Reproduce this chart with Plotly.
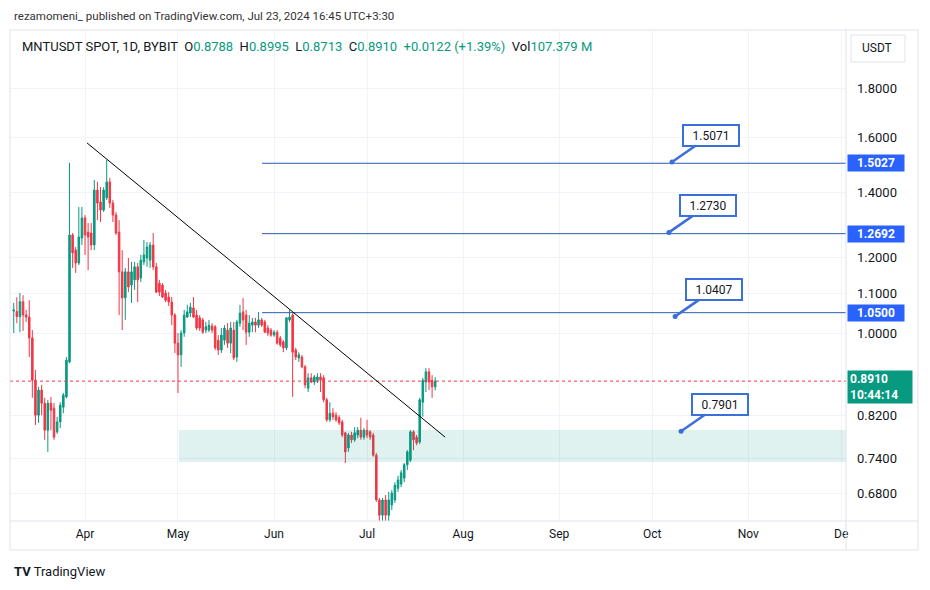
import math
import pandas as pd
import plotly.graph_objects as go

# ---------------- data ----------------
dates = pd.date_range("2024-03-09", "2024-07-23", freq="D")

open_ = [1.054, 1.053, 1.040, 1.078, 1.044, 1.039, 0.988, 0.893, 0.821, 0.872,
         0.845, 0.792, 0.845, 0.835, 0.789, 0.808, 0.837, 0.858, 0.933, 1.265,
         1.220, 1.183, 1.256, 1.318, 1.274, 1.271, 1.235, 1.409, 1.369, 1.343,
         1.383, 1.437, 1.366, 1.327, 1.274, 1.158, 1.088, 1.158, 1.122, 1.136,
         1.172, 1.141, 1.186, 1.197, 1.191, 1.235, 1.172, 1.127, 1.122, 1.101,
         1.090, 1.077, 1.044, 0.976, 0.949, 1.000, 1.039, 1.049, 1.062, 1.044,
         1.037, 1.032, 1.007, 1.007, 1.017, 1.015, 0.983, 0.960, 0.983, 1.007,
         0.976, 1.007, 0.944, 1.024, 1.052, 1.044, 1.002, 1.019, 1.027, 1.019,
         1.032, 1.027, 1.012, 1.007, 0.995, 1.002, 0.988, 0.979, 0.965, 1.032,
         1.044, 0.960, 0.942, 0.944, 0.922, 0.876, 0.898, 0.889, 0.893, 0.900,
         0.898, 0.852, 0.812, 0.825, 0.821, 0.816, 0.808, 0.787, 0.759, 0.783,
         0.774, 0.783, 0.792, 0.779, 0.792, 0.789, 0.783, 0.746, 0.670, 0.646,
         0.670, 0.646, 0.662, 0.670, 0.689, 0.696, 0.706, 0.729, 0.737, 0.789,
         0.779, 0.770, 0.847, 0.889, 0.911, 0.893, 0.8788]

high = [1.075, 1.090, 1.101, 1.095, 1.057, 1.082, 1.007, 0.915, 0.879, 0.883,
        0.856, 0.852, 0.858, 0.845, 0.818, 0.847, 0.866, 0.944, 1.504, 1.271,
        1.229, 1.353, 1.353, 1.327, 1.302, 1.302, 1.444, 1.437, 1.419, 1.419,
        1.515, 1.451, 1.376, 1.337, 1.311, 1.220, 1.169, 1.197, 1.186, 1.186,
        1.183, 1.206, 1.250, 1.244, 1.244, 1.271, 1.183, 1.136, 1.127, 1.109,
        1.103, 1.090, 1.049, 1.000, 1.007, 1.057, 1.070, 1.075, 1.090, 1.057,
        1.044, 1.037, 1.027, 1.032, 1.024, 1.019, 0.995, 1.012, 1.019, 1.024,
        1.027, 1.027, 1.032, 1.070, 1.088, 1.057, 1.044, 1.037, 1.037, 1.052,
        1.037, 1.032, 1.019, 1.012, 1.007, 1.007, 0.993, 0.983, 1.039, 1.057,
        1.049, 0.965, 0.955, 0.949, 0.926, 0.908, 0.908, 0.904, 0.908, 0.908,
        0.904, 0.856, 0.847, 0.835, 0.827, 0.821, 0.812, 0.789, 0.787, 0.789,
        0.798, 0.798, 0.816, 0.796, 0.812, 0.792, 0.787, 0.750, 0.673, 0.673,
        0.678, 0.683, 0.686, 0.699, 0.710, 0.720, 0.732, 0.755, 0.792, 0.792,
        0.783, 0.856, 0.898, 0.919, 0.919, 0.904, 0.8995]

low = [1.000, 1.024, 1.002, 1.005, 1.027, 0.944, 0.856, 0.802, 0.806, 0.821,
       0.774, 0.752, 0.792, 0.774, 0.785, 0.796, 0.825, 0.855, 0.930, 1.169,
       1.155, 1.177, 1.235, 1.206, 1.163, 1.220, 1.220, 1.311, 1.305, 1.337,
       1.376, 1.350, 1.305, 1.265, 1.044, 1.007, 1.032, 1.103, 1.075, 1.109,
       1.077, 1.130, 1.177, 1.172, 1.169, 1.163, 1.101, 1.093, 1.088, 1.077,
       1.067, 1.019, 0.953, 0.866, 0.922, 0.991, 1.037, 1.039, 1.037, 1.007,
       1.005, 0.998, 1.000, 1.002, 1.000, 0.960, 0.949, 0.953, 0.972, 0.965,
       0.953, 0.937, 0.933, 1.015, 1.007, 0.972, 0.991, 1.002, 1.002, 1.012,
       1.015, 1.000, 0.993, 0.991, 0.991, 0.972, 0.967, 0.955, 0.960, 1.027,
       0.858, 0.937, 0.933, 0.919, 0.876, 0.868, 0.887, 0.883, 0.887, 0.868,
       0.847, 0.808, 0.808, 0.812, 0.808, 0.802, 0.779, 0.732, 0.752, 0.768,
       0.770, 0.777, 0.774, 0.774, 0.777, 0.774, 0.743, 0.667, 0.625, 0.627,
       0.626, 0.630, 0.654, 0.665, 0.683, 0.691, 0.699, 0.720, 0.734, 0.755,
       0.764, 0.766, 0.818, 0.868, 0.872, 0.856, 0.8713]

close = [1.057, 1.040, 1.078, 1.044, 1.039, 0.988, 0.893, 0.821, 0.872, 0.845,
         0.792, 0.845, 0.831, 0.779, 0.808, 0.841, 0.862, 0.937, 1.265, 1.212,
         1.183, 1.259, 1.318, 1.265, 1.259, 1.235, 1.409, 1.366, 1.343, 1.409,
         1.437, 1.366, 1.327, 1.271, 1.158, 1.088, 1.158, 1.117, 1.158, 1.172,
         1.136, 1.191, 1.206, 1.229, 1.235, 1.172, 1.103, 1.103, 1.090, 1.082,
         1.077, 1.044, 0.976, 0.949, 1.000, 1.044, 1.052, 1.064, 1.039, 1.012,
         1.012, 1.002, 1.015, 1.019, 1.007, 0.965, 0.960, 0.995, 1.012, 0.976,
         1.012, 0.942, 1.027, 1.049, 1.032, 1.002, 1.024, 1.027, 1.019, 1.032,
         1.019, 1.002, 1.000, 0.995, 1.002, 0.976, 0.972, 0.965, 1.037, 1.039,
         0.955, 0.944, 0.949, 0.922, 0.883, 0.898, 0.889, 0.900, 0.900, 0.893,
         0.852, 0.812, 0.825, 0.818, 0.812, 0.806, 0.783, 0.752, 0.783, 0.774,
         0.787, 0.792, 0.779, 0.792, 0.783, 0.779, 0.746, 0.670, 0.646, 0.670,
         0.646, 0.670, 0.681, 0.694, 0.703, 0.715, 0.729, 0.752, 0.789, 0.774,
         0.768, 0.852, 0.893, 0.911, 0.889, 0.879, 0.891]

month_ticks = ["2024-04-01", "2024-05-01", "2024-06-01", "2024-07-01", "2024-08-01",
               "2024-09-01", "2024-10-01", "2024-11-01", "2024-12-01"]
month_labels = ["Apr", "May", "Jun", "Jul", "Aug", "Sep", "Oct", "Nov", "De"]
price_ticks = [0.68, 0.74, 0.82, 1.0, 1.1, 1.2, 1.4, 1.6, 1.8]

level_values = [1.5027, 1.2692, 1.0500]
level_start = "2024-05-28 03:00"
callout_values = [1.5071, 1.2730, 1.0407, 0.7901]
callout_dates = ["2024-10-07 10:00", "2024-10-06 10:00", "2024-10-08 10:00", "2024-10-10 08:00"]
zone_top, zone_bottom = 0.7925, 0.7338
zone_start = "2024-05-01 08:00"
trend_dates = ["2024-04-01 15:00", "2024-07-26 05:00"]
trend_prices = [1.578, 0.779]
last_price = 0.8910

X0, X1 = "2024-03-07 19:00", "2024-12-02 13:30"
FAR = "2024-12-20"

UP, DOWN = "#089981", "#f23645"
BLUE = "#2962ff"
LINE_BLUE = "#2a5caa"
TXT = "#131722"
GRID = "#f0f3fa"
BORDER = "#e0e3eb"
FONT = "Roboto, Arial, sans-serif"

# page body has an 8px margin: figure is drawn 8px in from the window corner
OFF = 8
W, H = 930 - OFF, 590 - OFF
# plot area in window pixels: x 10..846, y 31..521
PX0, PX1, PY0, PY1 = 10, 846, 31, 521
L, T = PX0 - OFF, PY0 - OFF
R, B = W - (PX1 - OFF), H - (PY1 - OFF)
PW, PH = PX1 - PX0, PY1 - PY0


def pxx(px):
    return (px - PX0) / PW


def pxy(py):
    return (PY1 - py) / PH


fig = go.Figure()

# support zone
fig.add_trace(go.Scatter(
    x=[zone_start, FAR, FAR, zone_start, zone_start],
    y=[zone_bottom, zone_bottom, zone_top, zone_top, zone_bottom],
    fill="toself", fillcolor="rgba(8,153,129,0.13)", line=dict(width=0),
    mode="lines", hoverinfo="skip", showlegend=False))

# horizontal levels
for v in level_values:
    fig.add_trace(go.Scatter(x=[level_start, FAR], y=[v, v], mode="lines",
                             line=dict(color=LINE_BLUE, width=1),
                             hoverinfo="skip", showlegend=False))

# last price dotted line
fig.add_trace(go.Scatter(x=[X0, FAR], y=[last_price, last_price], mode="lines",
                         line=dict(color=DOWN, width=1, dash="dot"),
                         hoverinfo="skip", showlegend=False))

# candles
fig.add_trace(go.Candlestick(
    x=dates, open=open_, high=high, low=low, close=close,
    increasing=dict(line=dict(color=UP, width=1), fillcolor=UP),
    decreasing=dict(line=dict(color=DOWN, width=1), fillcolor=DOWN),
    whiskerwidth=0, showlegend=False))

# trendline
fig.add_trace(go.Scatter(x=trend_dates, y=trend_prices, mode="lines",
                         line=dict(color="#000000", width=1),
                         hoverinfo="skip", showlegend=False))

# callout anchor dots
fig.add_trace(go.Scatter(x=callout_dates, y=callout_values, mode="markers",
                         marker=dict(color="#3b6fd9", size=5),
                         hoverinfo="skip", showlegend=False))

annotations = []
for d, v in zip(callout_dates, callout_values):
    annotations.append(dict(
        x=d, y=math.log10(v), xref="x", yref="y", text=f"{v:.4f}",
        showarrow=True, arrowhead=0, arrowwidth=2.5, arrowcolor="#3b6fd9",
        ax=39, ay=-27, standoff=0, startstandoff=0,
        bgcolor="#ffffff", bordercolor="#3b6fd9", borderwidth=2, borderpad=2,
        width=50, height=15, font=dict(family=FONT, size=12, color=TXT)))

# price axis labels for levels
for v in level_values:
    annotations.append(dict(
        x=pxx(876), y=math.log10(v), xref="paper", yref="y", text=f"<b>{v:.4f}</b>",
        showarrow=False, bgcolor=BLUE, borderpad=1, width=54, height=14,
        font=dict(family=FONT, size=12, color="#ffffff"), xanchor="center", yanchor="middle"))

# last price label
annotations.append(dict(
    x=pxx(880), y=math.log10(last_price), xref="paper", yref="y",
    text="<b>0.8910</b><br><b>10:44:14</b>", showarrow=False, bgcolor=UP,
    borderpad=2, width=60, height=28, yshift=-6, align="left",
    font=dict(family=FONT, size=12, color="#ffffff"), xanchor="center", yanchor="middle"))

# header / legend / logo texts
annotations.append(dict(
    x=pxx(12), y=pxy(16), xref="paper", yref="paper", showarrow=False,
    xanchor="left", yanchor="middle",
    text="rezamomeni_ published on TradingView.com, Jul 23, 2024 16:45 UTC+3:30",
    font=dict(family=FONT, size=11.5, color="#333333")))

g = UP
legend_txt = (f"MNTUSDT SPOT, 1D, BYBIT  O<span style='color:{g}'>0.8788</span>  "
              f"H<span style='color:{g}'>0.8995</span>  L<span style='color:{g}'>0.8713</span>  "
              f"C<span style='color:{g}'>0.8910</span>  <span style='color:{g}'>+0.0122 (+1.39%)</span>  "
              f"Vol<span style='color:{g}'>107.379 M</span>")
annotations.append(dict(
    x=pxx(20), y=pxy(46), xref="paper", yref="paper", showarrow=False,
    xanchor="left", yanchor="middle", text=legend_txt,
    font=dict(family=FONT, size=13, color=TXT)))

annotations.append(dict(
    x=pxx(877), y=pxy(48), xref="paper", yref="paper", showarrow=False,
    xanchor="center", yanchor="middle", text="USDT",
    font=dict(family=FONT, size=12, color=TXT)))

annotations.append(dict(
    x=pxx(12), y=pxy(571), xref="paper", yref="paper", showarrow=False,
    xanchor="left", yanchor="middle",
    text="<b>TV</b> TradingView",
    font=dict(family=FONT, size=13, color="#131722")))

shapes = [
    dict(type="rect", xref="paper", yref="paper", x0=pxx(10), x1=pxx(918),
         y0=pxy(550), y1=pxy(30), line=dict(color=BORDER, width=1)),
    dict(type="line", xref="paper", yref="paper", x0=pxx(846), x1=pxx(846),
         y0=pxy(550), y1=pxy(30), line=dict(color=BORDER, width=1)),
    dict(type="line", xref="paper", yref="paper", x0=pxx(10), x1=pxx(918),
         y0=pxy(521), y1=pxy(521), line=dict(color=BORDER, width=1)),
    dict(type="rect", xref="paper", yref="paper", x0=pxx(851), x1=pxx(905),
         y0=pxy(62), y1=pxy(35), line=dict(color=BORDER, width=1)),
]

fig.update_layout(
    width=W, height=H, margin=dict(l=L, r=R, t=T, b=B),
    paper_bgcolor="#ffffff", plot_bgcolor="#ffffff",
    showlegend=False, annotations=annotations, shapes=shapes,
    font=dict(family=FONT, color=TXT),
    xaxis=dict(type="date", range=[X0, X1], rangeslider=dict(visible=False),
               tickvals=month_ticks, ticktext=month_labels,
               showgrid=True, gridcolor=GRID, gridwidth=1, zeroline=False,
               showline=False, ticks="", ticklabelstandoff=4,
               tickfont=dict(family=FONT, size=12, color=TXT)),
    yaxis=dict(type="log", range=[-0.19585, 0.31466], side="right",
               tickvals=price_ticks, ticktext=[f"{v:.4f}" for v in price_ticks],
               showgrid=True, gridcolor=GRID, gridwidth=1, zeroline=False,
               showline=False, ticks="", ticklabelstandoff=10,
               tickfont=dict(family=FONT, size=13, color=TXT)),
)

fig.write_html("out.html")
